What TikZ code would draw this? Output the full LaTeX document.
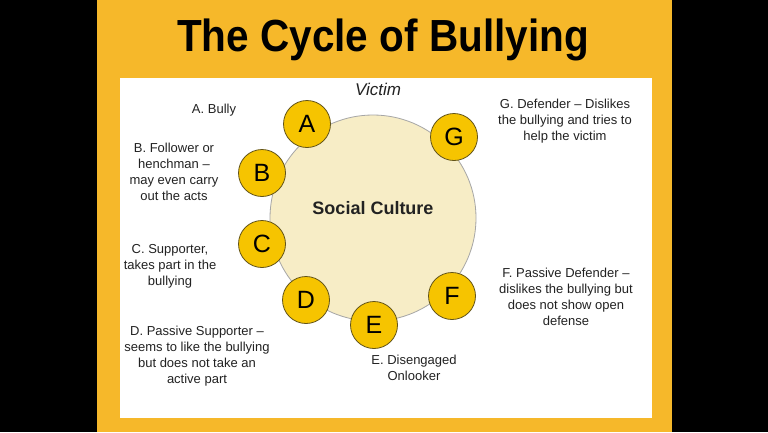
\documentclass[tikz,border=0pt]{standalone}
\usepackage{fontspec}
\setmainfont{Liberation Sans}
\definecolor{bgor}{HTML}{F6B82A}
\definecolor{cream}{HTML}{F7EDC6}
\definecolor{yel}{HTML}{F6C400}
\definecolor{txt}{HTML}{222222}
\tikzset{
 small/.style={circle,draw=txt!70!yel,line width=0.8pt,fill=yel,minimum size=47pt,inner sep=0pt,font=\fontsize{25}{25}\selectfont},
 lbl/.style={align=center,font=\fontsize{13}{16}\selectfont,text=txt}
}
\begin{document}
\begin{tikzpicture}[x=1pt,y=-1pt]
\useasboundingbox (0,0) rectangle (768,432);
\fill[black] (0,0) rectangle (768,432);
\fill[bgor] (97,0) rectangle (672,432);
\node[font=\bfseries\fontsize{45}{45}\selectfont,xscale=0.9] (title) at (383,40) {The Cycle of Bullying};
\fill[white] (120,78) rectangle (652,418);
\node[circle,draw=gray!70,line width=0.8pt,fill=cream,minimum size=206pt] (cult) at (373,218) {};
\node[font=\bfseries\fontsize{18}{18}\selectfont,text=txt] (sc) at (373,208) {Social Culture};
\node[font=\itshape\fontsize{17}{17}\selectfont,text=txt] (vic) at (378,89) {Victim};
\node[small] (A) at (307,124) {A};
\node[small] (G) at (454,137) {G};
\node[small] (B) at (262,173) {B};
\node[small] (C) at (262,244) {C};
\node[small] (D) at (306,300) {D};
\node[small] (E) at (374,325) {E};
\node[small] (F) at (452,296) {F};
\node[lbl] (la) at (214,110) {A. Bully};
\node[lbl] (lb) at (174,172) {B. Follower or\\henchman --\\may even carry\\out the acts};
\node[lbl] (lc) at (170,266) {C. Supporter,\\takes part in the\\bullying};
\node[lbl] (ld) at (197,356) {D. Passive Supporter --\\seems to like the bullying\\but does not take an\\active part};
\node[lbl] (le) at (414,368) {E. Disengaged\\Onlooker};
\node[lbl] (lg) at (565,121) {G. Defender -- Dislikes\\the bullying and tries to\\help the victim};
\node[lbl] (lf) at (566,297) {F. Passive Defender --\\dislikes the bullying but\\does not show open\\defense};
\end{tikzpicture}
\end{document}
